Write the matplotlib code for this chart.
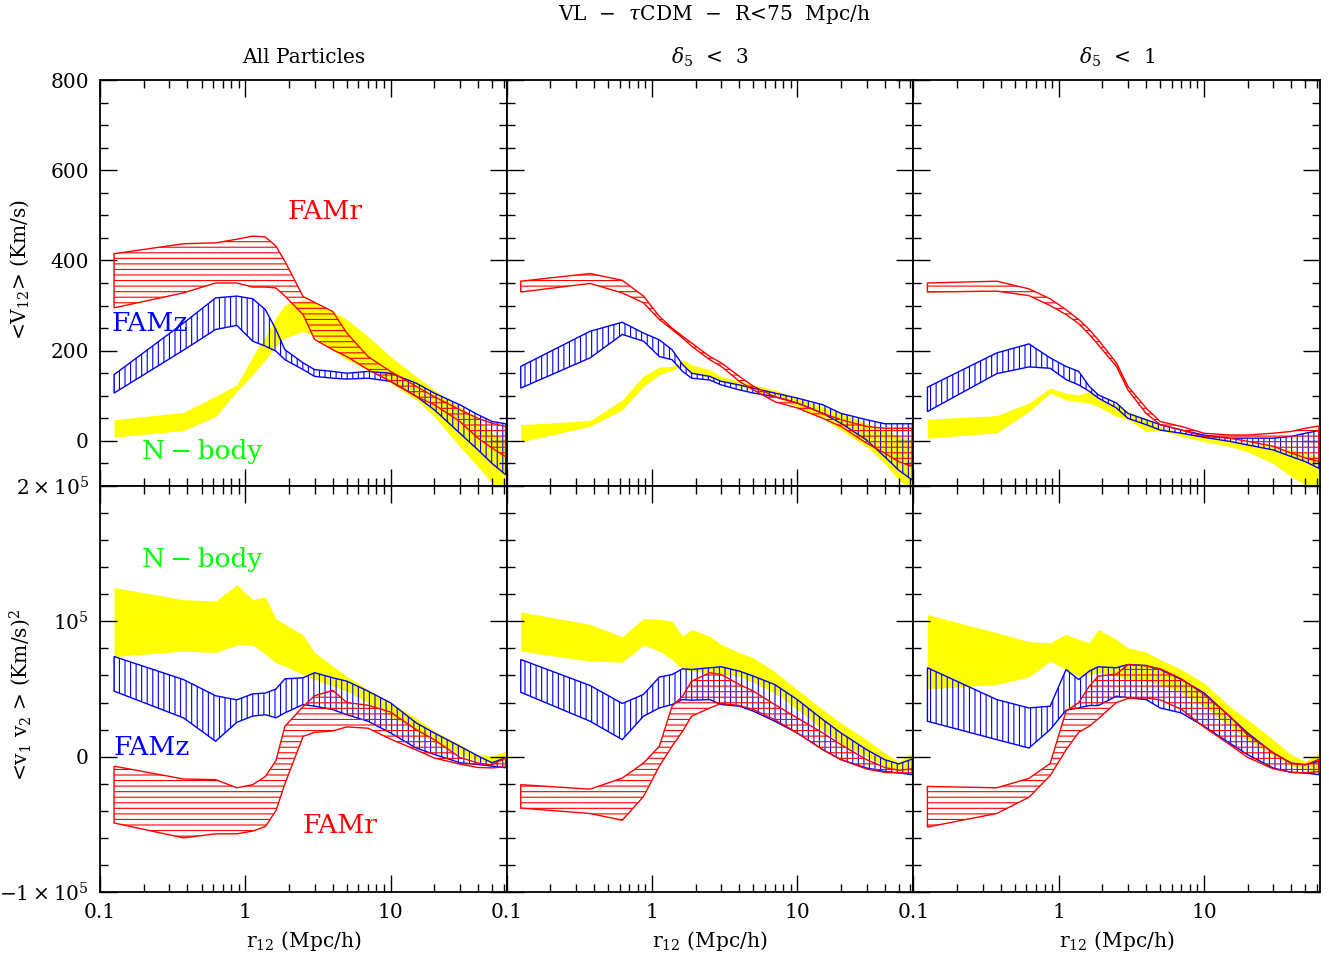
import matplotlib.pyplot as plt
import numpy as np
from matplotlib.ticker import FixedLocator, LogLocator, MultipleLocator, NullFormatter

plt.rcParams['font.family'] = ['DejaVu Serif']
plt.rcParams['mathtext.fontset'] = 'dejavuserif'
plt.rcParams['hatch.linewidth'] = 0.8

# pair separation bins (Mpc/h)
R = [0.125, 0.375, 0.625, 0.875, 1.125, 1.375, 1.625, 1.875, 2.5, 3,
     4, 5, 7, 10, 15, 20, 30, 40, 50, 62]

# <V12> (Km/s), all particles
v12_all_nb_hi = [47, 63, 99, 124, 187, 232, 273, 302, 313, 306, 287, 269, 232, 187, 143, 113, 76, 47, 17, 2]
v12_all_nb_lo = [8, 23, 54, 110, 147, 180, 210, 228, 243, 232, 202, 180, 158, 128, 91, 54, -13, -57, -94, -130]
v12_all_z_hi = [147, 261, 317, 321, 315, 291, 247, 202, 173, 158, 154, 150, 154, 150, 128, 106, 80, 58, 43, 38]
v12_all_z_lo = [106, 201, 247, 256, 221, 210, 199, 180, 158, 143, 139, 137, 139, 132, 99, 69, 17, -20, -50, -75]
v12_all_r_hi = [415, 437, 439, 447, 454, 452, 432, 398, 320, 307, 287, 239, 187, 154, 121, 98, 69, 50, 39, 32]
v12_all_r_lo = [295, 328, 350, 350, 341, 341, 339, 321, 280, 225, 202, 187, 158, 132, 99, 80, 43, 6, -16, -35]

# <V12>, delta5 < 3
v12_d3_nb_hi = [36, 45, 91, 144, 164, 165, 180, 169, 158, 143, 132, 124, 113, 95, 76, 61, 39, 24, 10, 2]
v12_d3_nb_lo = [-2, 32, 69, 121, 147, 156, 169, 150, 139, 132, 121, 113, 98, 76, 50, 24, -13, -50, -87, -109]
v12_d3_z_hi = [165, 243, 263, 239, 224, 202, 169, 150, 143, 132, 124, 117, 106, 95, 80, 61, 47, 38, 38, 38]
v12_d3_z_lo = [117, 184, 236, 221, 187, 180, 154, 139, 135, 124, 113, 106, 98, 84, 61, 39, 2, -35, -65, -87]
v12_d3_r_hi = [354, 371, 356, 321, 276, 250, 232, 217, 187, 173, 143, 121, 98, 84, 61, 47, 32, 28, 28, 28]
v12_d3_r_lo = [330, 349, 328, 306, 269, 247, 228, 210, 180, 165, 132, 113, 87, 73, 50, 32, -5, -27, -46, -57]

# <V12>, delta5 < 1
v12_d1_nb_hi = [48, 56, 84, 117, 106, 102, 110, 95, 80, 65, 47, 32, 18, 10, 2, -5, -13, -20, -27, -35]
v12_d1_nb_lo = [6, 18, 65, 106, 91, 87, 84, 76, 54, 47, 21, 24, 10, -1, -12, -24, -50, -79, -98, -109]
v12_d1_z_hi = [119, 195, 215, 184, 165, 154, 121, 102, 84, 61, 47, 36, 24, 13, 6, 6, 6, 10, 17, 23]
v12_d1_z_lo = [65, 149, 164, 161, 136, 124, 110, 95, 73, 50, 36, 24, 17, 8, -1, -9, -20, -35, -46, -61]
v12_d1_r_hi = [350, 354, 337, 315, 291, 269, 247, 224, 173, 121, 73, 43, 32, 17, 13, 13, 17, 21, 28, 33]
v12_d1_r_lo = [330, 332, 322, 300, 280, 260, 236, 213, 165, 113, 61, 36, 24, 10, 6, -1, -12, -27, -38, -46]

# <v1 v2> in units of 1000 (Km/s)^2, all particles
v1v2_all_nb_hi = [125, 116, 115, 127, 116, 118, 102, 98, 90, 77, 67, 59.5, 49.7, 39.8, 28.7, 19, 9, 1.7, 0.5, 4]
v1v2_all_nb_lo = [74, 78, 77, 82.5, 82.5, 75.6, 69.4, 67, 60.7, 57, 52, 48.4, 39.8, 30, 19, 10.4, 1.7, -3, -4.5, -3]
v1v2_all_z_hi = [74, 57, 45, 42, 46.4, 47, 50, 57.5, 58.3, 62, 58.3, 55.8, 48.4, 39.8, 25, 17.5, 7.7, 0.5, -4.5, -0.8]
v1v2_all_z_lo = [48.4, 28.7, 11.4, 25.4, 30, 31, 28.7, 32.4, 38.5, 37.3, 34.8, 31, 26.2, 17.5, 6.4, 1.7, -4.5, -5.8, -7, -8.2]
v1v2_all_r_hi = [-7, -16.5, -17, -23, -20.7, -14.6, -3, 22.5, 37, 45, 49, 40, 38, 33, 20, 12.6, -0.5, -4.7, -6, -1]
v1v2_all_r_lo = [-49, -60, -57, -57, -55, -51.6, -40, -20, 15, 18, 19, 22, 21, 13, 5, -1, -5.5, -8, -8.3, -7.5]

# <v1 v2>, delta5 < 3
v1v2_d3_nb_hi = [106.9, 97.8, 88.6, 102, 101.5, 100.2, 89.1, 94, 89, 83, 76.8, 73, 63, 49.6, 34.8, 25, 12.6, 2.7, -3.5, 2.7]
v1v2_d3_nb_lo = [78, 70.6, 69.9, 82.5, 78, 71.8, 64.4, 63.2, 62, 60.7, 59.5, 54.6, 47, 34.8, 20, 10, 0, -7, -10.9, -9.6]
v1v2_d3_z_hi = [71.8, 52.6, 39.3, 46, 58.8, 60.7, 64.9, 64.4, 65.7, 66.4, 63.2, 59.5, 53.3, 42.2, 27.4, 17.5, 5.2, -2.2, -5.4, -1.7]
v1v2_d3_z_lo = [47.6, 26.2, 12.6, 29.9, 36, 38.5, 42.2, 41.7, 42.2, 38.5, 37.3, 33.6, 26.2, 17.5, 5.2, -2.2, -8.4, -10.9, -12, -13.3]
v1v2_d3_r_hi = [-20.7, -24, -15.8, -4.7, 7.7, 37.3, 44.7, 55.8, 62, 60.7, 53.3, 48.4, 38.5, 28.7, 17.5, 8.9, -2.2, -8, -10, -9]
v1v2_d3_r_lo = [-38, -42, -47, -29.4, -7, 7.7, 18.8, 29.9, 36, 39.3, 37.8, 34.8, 27.4, 17.5, 5.2, -2.2, -9.1, -11.6, -12, -12]

# <v1 v2>, delta5 < 1
v1v2_d1_nb_hi = [105, 91.6, 85, 84.2, 90.4, 86.7, 84.2, 94, 86.7, 80.5, 77.3, 71.8, 64.4, 54.6, 37.3, 27.4, 12.6, 1.5, -3.5, 2.7]
v1v2_d1_nb_lo = [50, 53.3, 59, 70.6, 64.4, 59.5, 60.7, 62, 59.5, 57, 55.8, 53.3, 47.2, 37.3, 22.5, 12.6, 0.2, -6.7, -9.6, -12]
v1v2_d1_z_hi = [65.7, 42.2, 36, 37.3, 64.4, 57, 63.2, 66.4, 65.7, 68.1, 67.4, 64.4, 57, 47.2, 29.9, 17.5, 2.7, -4.7, -5.9, -3.5]
v1v2_d1_z_lo = [26.2, 12.6, 6.4, 20, 34.3, 36, 37.8, 37.8, 44.7, 43.5, 42.2, 36, 32.3, 22.5, 10.1, 1.5, -8.4, -11.6, -12.1, -13.3]
v1v2_d1_r_hi = [-22, -23, -16, -5, 33.6, 40, 52, 59.5, 61, 68, 67, 65, 57.5, 46, 30, 16, 3, -5, -6, -2]
v1v2_d1_r_lo = [-52, -42, -30, -14, 5, 18, 22.5, 28, 40, 43, 43.5, 42, 35, 22, 9, -0.5, -9, -11.5, -12, -11]

col_titles = ['All Particles', r'$\delta_5$  <  3', r'$\delta_5$  <  1']

top_bands = [
    (v12_all_nb_lo, v12_all_nb_hi, v12_all_z_lo, v12_all_z_hi, v12_all_r_lo, v12_all_r_hi),
    (v12_d3_nb_lo, v12_d3_nb_hi, v12_d3_z_lo, v12_d3_z_hi, v12_d3_r_lo, v12_d3_r_hi),
    (v12_d1_nb_lo, v12_d1_nb_hi, v12_d1_z_lo, v12_d1_z_hi, v12_d1_r_lo, v12_d1_r_hi),
]
bot_bands = [
    (v1v2_all_nb_lo, v1v2_all_nb_hi, v1v2_all_z_lo, v1v2_all_z_hi, v1v2_all_r_lo, v1v2_all_r_hi),
    (v1v2_d3_nb_lo, v1v2_d3_nb_hi, v1v2_d3_z_lo, v1v2_d3_z_hi, v1v2_d3_r_lo, v1v2_d3_r_hi),
    (v1v2_d1_nb_lo, v1v2_d1_nb_hi, v1v2_d1_z_lo, v1v2_d1_z_hi, v1v2_d1_r_lo, v1v2_d1_r_hi),
]

W, H = 1329, 961
fig = plt.figure(figsize=(W / 100, H / 100), dpi=100)


def draw_bands(ax, bands, scale):
    nb_lo, nb_hi, z_lo, z_hi, r_lo, r_hi = [np.array(b) * scale for b in bands]
    x = np.array(R)
    ax.fill_between(x, nb_lo, nb_hi, color='#ffff00', lw=0, zorder=1)
    xs = np.concatenate([x, x[::-1]])
    ax.fill(xs, np.concatenate([z_hi, z_lo[::-1]]), facecolor='none',
            edgecolor='#0000ff', hatch='|||', lw=1.0, zorder=2)
    ax.fill(xs, np.concatenate([r_hi, r_lo[::-1]]), facecolor='none',
            edgecolor='#ff0000', hatch='---', lw=1.0, zorder=3)


def style(ax):
    ax.set_xscale('log')
    ax.set_xlim(0.1, 63)
    ax.xaxis.set_major_locator(FixedLocator([0.1, 1, 10]))
    ax.xaxis.set_minor_locator(LogLocator(base=10, subs=np.arange(2, 10)))
    ax.xaxis.set_minor_formatter(NullFormatter())
    ax.tick_params(which='both', direction='in', top=True, right=True,
                   labelsize=14.5, width=1.0)
    ax.tick_params(which='major', length=12, pad=8)
    ax.tick_params(which='minor', length=6)
    for s in ax.spines.values():
        s.set_linewidth(1.3)


def label(ax, x, y, s, color):
    ax.text(x, y, s, color=color, fontsize=19, transform=ax.transAxes,
            ha='center', va='center')


left = 100
pw = (1320 - 100) / 3
for c in range(3):
    # top row: mean pairwise velocity
    ax = fig.add_axes([(left + c * pw) / W, (H - 486) / H, pw / W, 406 / H])
    draw_bands(ax, top_bands[c], 1.0)
    style(ax)
    ax.set_ylim(-100, 800)
    ax.yaxis.set_major_locator(MultipleLocator(200))
    ax.yaxis.set_minor_locator(MultipleLocator(50))
    ax.set_xticklabels([])
    if c > 0:
        ax.set_yticklabels([])
    else:
        label(ax, 0.553, 0.675, 'FAMr', '#ff0000')
        label(ax, 0.123, 0.401, 'FAMz', '#0000ff')
        label(ax, 0.251, 0.084, 'N\u2009\u2212\u2009body', '#00ff00')
    ax.set_title(col_titles[c], fontsize=14.5, pad=12)

    # bottom row: velocity correlation
    ax = fig.add_axes([(left + c * pw) / W, (H - 892) / H, pw / W, 406 / H])
    draw_bands(ax, bot_bands[c], 1000.0)
    style(ax)
    ax.set_ylim(-1e5, 2e5)
    ax.yaxis.set_major_locator(FixedLocator([-1e5, 0, 1e5, 2e5]))
    ax.yaxis.set_minor_locator(MultipleLocator(2e4))
    ax.set_xticklabels(['0.1', '1', '10'])
    ax.set_xlabel(r'r$_{12}$ (Mpc/h)', fontsize=14.5, labelpad=5)
    if c > 0:
        ax.set_yticklabels([])
    else:
        ax.set_yticklabels([r'$-1\times10^5$', '0', r'$10^5$', r'$2\times10^5$'])
        label(ax, 0.251, 0.818, 'N\u2009\u2212\u2009body', '#00ff00')
        label(ax, 0.128, 0.355, 'FAMz', '#0000ff')
        label(ax, 0.590, 0.163, 'FAMr', '#ff0000')

fig.text(20 / W, 1 - 270 / H, r'<V$_{12}$> (Km/s)', fontsize=14.5,
         rotation=90, ha='center', va='center')
fig.text(20 / W, 1 - 695 / H, r'<v$_1$ v$_2$ > (Km/s)$^2$', fontsize=14.5,
         rotation=90, ha='center', va='center')
fig.text(714 / W, 1 - 15 / H, r'VL  $-$  $\tau$CDM  $-$  R<75  Mpc/h',
         fontsize=14.5, ha='center', va='center')

fig.savefig('out.png', dpi=100)
